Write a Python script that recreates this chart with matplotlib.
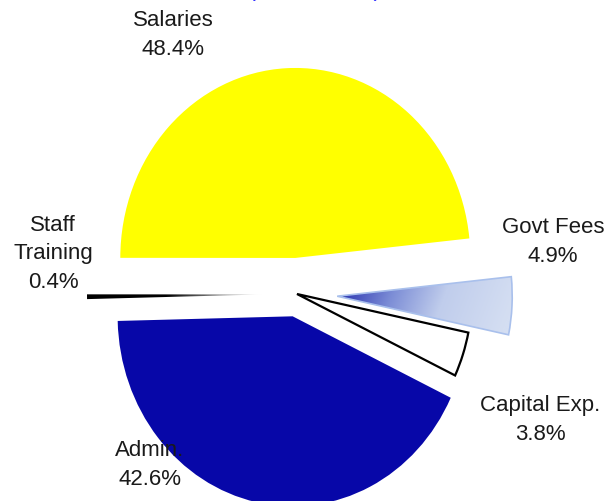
import numpy as np
import matplotlib
matplotlib.use("Agg")
import matplotlib.pyplot as plt
from matplotlib.colors import LinearSegmentedColormap

plt.rcParams["font.family"] = ["Liberation Sans", "DejaVu Sans"]

# slice data, in drawing order (counter-clockwise from the start angle)
categories = ["Salaries", "Staff Training", "Admin.", "Capital Exp.", "Govt Fees"]
label_text = ["Salaries", "Staff\nTraining", "Admin.", "Capital Exp.", "Govt Fees"]
shares = [48.4, 0.4, 42.6, 3.8, 4.9]
explode = [0.19, 0.2, 0.12, 0.0, 0.23]
colors = ["#FFFF00", "#000000", "#0707A8", "#FFFFFF", "#C8D4EE"]

W, H = 614, 502
fig = plt.figure(figsize=(W / 100, H / 100), dpi=100)
ax = fig.add_axes([0, 0, 1, 1])

wedges, _ = ax.pie(shares, explode=explode, colors=colors, startangle=5.9,
                   counterclock=True, wedgeprops=dict(linewidth=0))

# pie in the reference is slightly taller than wide
cx, cy = 297, 295          # pixel centre (from top)
sx, sy = 175, 190          # pixels per unit
ax.set_aspect("auto")
ax.axis("off")

# capital exp: white with black outline
wedges[3].set_edgecolor("black")
wedges[3].set_linewidth(1.6)

# govt fees: blue gradient from the apex outwards
gw = wedges[4]
gw.set_facecolor("none")
gw.set_edgecolor("#A9C0EC")
gw.set_linewidth(1.2)
gw.set_zorder(3)
c = gw.center
theta = np.deg2rad((gw.theta1 + gw.theta2) / 2)
xs = np.linspace(c[0] - 0.1, c[0] + 1.1, 300)
ys = np.linspace(c[1] - 0.4, c[1] + 0.4, 200)
X, Y = np.meshgrid(xs, ys)
t = ((X - c[0]) * np.cos(theta) + (Y - c[1]) * np.sin(theta)) \
    - 0.35 * ((Y - c[1]) * np.cos(theta) - (X - c[0]) * np.sin(theta))
t = np.clip(t, 0, 1)
cmap_g = LinearSegmentedColormap.from_list(
    "govt", [(0, "#2A33B0"), (0.3, "#7C8DD6"), (0.6, "#C0CDEC"), (1, "#D4DEF2")])
im = ax.imshow(t, extent=(xs[0], xs[-1], ys[0], ys[-1]), origin="lower",
               cmap=cmap_g, vmin=0, vmax=1, aspect="auto", zorder=2)
im.set_clip_path(gw)

# staff training: black fading to white towards the centre
sw = wedges[1]
sw.set_facecolor("none")
c = sw.center
xs = np.linspace(c[0] - 1.05, c[0] + 0.05, 300)
ys = np.linspace(c[1] - 0.1, c[1] + 0.1, 20)
X, Y = np.meshgrid(xs, ys)
t = np.clip((X - (c[0] - 1.0)) / 1.0, 0, 1)
cmap_s = LinearSegmentedColormap.from_list(
    "staff", [(0, "#000000"), (0.45, "#000000"), (0.75, "#8A8A8A"), (1, "#FFFFFF")])
im2 = ax.imshow(t, extent=(xs[0], xs[-1], ys[0], ys[-1]), origin="lower",
                cmap=cmap_s, vmin=0, vmax=1, aspect="auto", zorder=2)
im2.set_clip_path(sw)

ax.set_xlim(-cx / sx, (W - cx) / sx)
ax.set_ylim(-(H - cy) / sy, cy / sy)

# labels (pixel positions)
label_pos = [(173, 35), (53, 254), (150, 465), (540, 420), (553, 242)]
for name, val, (px, py) in zip(label_text, shares, label_pos):
    fig.text(px / W, 1 - py / H, f"{name}\n{val:.1f}%", ha="center", va="center",
             fontsize=16, color="#1A1A1A", linespacing=1.45, zorder=5)

# title, almost entirely above the visible area
fig.text(315 / W, 1 + 4 / H, "(Distribution)", ha="center", va="baseline",
         fontsize=17, color="#3333FF")

fig.savefig("out.png", dpi=100)
